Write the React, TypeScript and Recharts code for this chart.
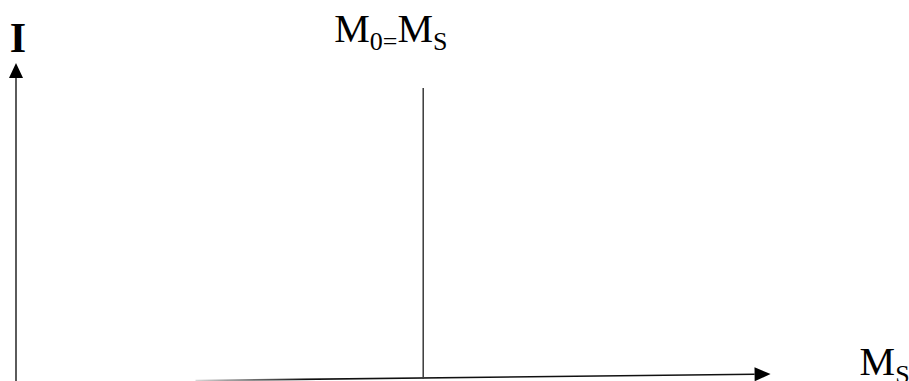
import React from 'react'
import { ComposedChart, XAxis, YAxis, ReferenceLine } from 'recharts'

// Ms on the horizontal axis, I on the vertical axis (arbitrary units 0..100)
const yAxisSegment = [
  { x: 0, y: -0.5 },
  { x: 0, y: 83.4 }
]
const xAxisSegment = [
  { x: 20.1, y: -0.4 },
  { x: 84.5, y: 1.3 }
]
const m0Segment = [
  { x: 45.6, y: 0 },
  { x: 45.6, y: 76.8 }
]

const serif = '"Liberation Serif", "Times New Roman", serif'

function YArrow(props: any) {
  const { x1, y1, x2, y2 } = props
  const top = Math.min(y1, y2)
  const bottom = Math.max(y1, y2)
  return (
    <g>
      <line x1={x1} y1={bottom} x2={x2} y2={top + 12} stroke="#333" strokeWidth={1.6} />
      <polygon points={`${x1},${top} ${x1 - 7},${top + 15} ${x1 + 7},${top + 15}`} fill="#000" />
      <text x={x1 + 2} y={top - 11} textAnchor="middle" fontFamily={serif} fontWeight="bold" fontSize={42} fill="#000">
        I
      </text>
    </g>
  )
}

function XArrow(props: any) {
  const { x1, y1, x2, y2 } = props
  const ang = Math.atan2(y2 - y1, x2 - x1)
  const len = 16
  const half = 7
  const bx = x2 - len * Math.cos(ang)
  const by = y2 - len * Math.sin(ang)
  const px = -Math.sin(ang) * half
  const py = Math.cos(ang) * half
  return (
    <g>
      <defs>
        <linearGradient id="xfade" gradientUnits="userSpaceOnUse" x1={x1} y1={0} x2={x1 + 110} y2={0}>
          <stop offset="0" stopColor="#d8d8d8" />
          <stop offset="1" stopColor="#111" />
        </linearGradient>
      </defs>
      <line x1={x1} y1={y1} x2={bx} y2={by} stroke="url(#xfade)" strokeWidth={1.6} />
      <polygon points={`${x2},${y2} ${bx + px},${by + py} ${bx - px},${by - py}`} fill="#000" />
      <text x={x2 + 89} y={y2 + 1} fontFamily={serif} fontSize={40} fill="#000">
        <tspan>M</tspan>
        <tspan fontSize={26} dy={8}>S</tspan>
      </text>
    </g>
  )
}

function M0Line(props: any) {
  const { x1, y1, x2, y2 } = props
  const top = Math.min(y1, y2)
  const bottom = Math.max(y1, y2)
  return (
    <g>
      <line x1={x1} y1={bottom} x2={x2} y2={top} stroke="#3a3a3a" strokeWidth={1.5} />
      <text x={x1 - 89} y={top - 46} fontFamily={serif} fontSize={40} fill="#000">
        <tspan>M</tspan>
        <tspan fontSize={26} dy={8}>0=</tspan>
        <tspan fontSize={40} dy={-8}>M</tspan>
        <tspan fontSize={26} dy={8}>S</tspan>
      </text>
    </g>
  )
}

export default function App() {
  return (
    <div style={{ position: 'absolute', left: 0, top: 0, width: 909, height: 381, background: '#fff' }}>
      <ComposedChart width={909} height={381} data={[]} margin={{ top: 0, right: 0, bottom: 2, left: 16 }}>
        <XAxis type="number" dataKey="x" domain={[0, 100]} hide allowDataOverflow />
        <YAxis type="number" domain={[0, 100]} hide allowDataOverflow />
        <ReferenceLine segment={yAxisSegment} ifOverflow="visible" shape={YArrow} />
        <ReferenceLine segment={xAxisSegment} ifOverflow="visible" shape={XArrow} />
        <ReferenceLine segment={m0Segment} ifOverflow="visible" shape={M0Line} />
      </ComposedChart>
    </div>
  )
}
